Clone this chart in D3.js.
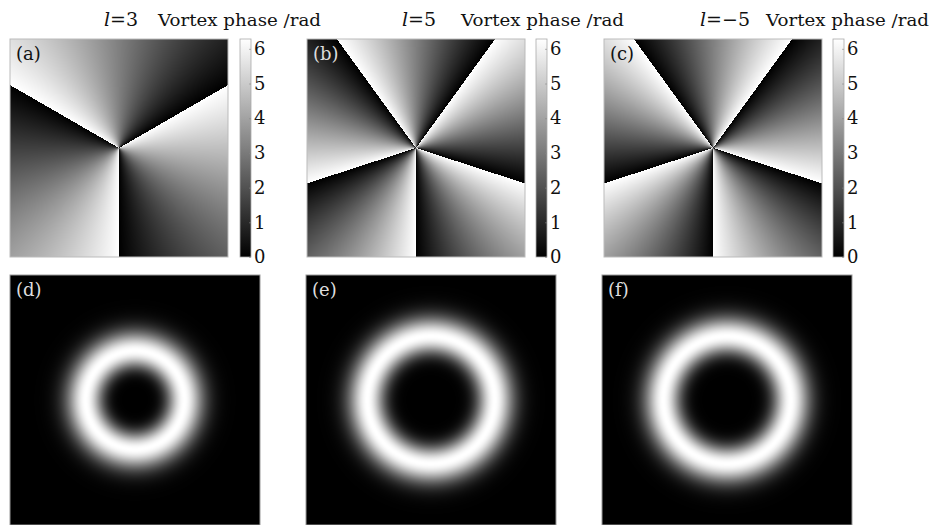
<!DOCTYPE html>
<html>
<head>
<meta charset="utf-8">
<script src="https://cdn.jsdelivr.net/npm/d3@7/dist/d3.min.js"></script>
<style>
  body { margin: 0; background: #fff; }
  svg { display: block; }
  text { font-family: "DejaVu Serif", "Liberation Serif", serif; }
</style>
</head>
<body>
<svg id="fig" width="935" height="525"></svg>
<script>
// Topological charges of the three vortex beams
const charges = [3, 5, -5];
const chargeText = ["3", "5", "\u22125"];
const phaseLabels = ["(a)", "(b)", "(c)"];
const intensityLabels = ["(d)", "(e)", "(f)"];
const phaseLabelColors = ["#111", "#ddd", "#111"];
const colorbarTicks = [0, 1, 2, 3, 4, 5, 6];
const titleText = "Vortex phase /rad";
const branchCutAngle = -Math.PI / 2;   // phase jump points straight down
const beamWaist = 1;
const intensityHalfWidth = 3.1;        // field of view, in units of the waist
const displayGamma = 1.2;              // contrast of the intensity images

// Layout
const phaseTop = 39, phaseSize = 218;
const phaseLeft = [10, 307, 604];
const barLeft = [240, 536, 833], barWidth = 11;
const intTop = 275, intSize = 250;
const intLeft = [10, 306, 602];
const titleChargeX = [104, 402, 700];
const titleTextX = [158, 461, 766];
const titleWidth = 163;
const titleBaseline = 26;

const svg = d3.select("#fig");
const TWO_PI = 2 * Math.PI;

const phaseColor = d3.scaleLinear().domain([0, TWO_PI]).range(["#000", "#fff"]);
const intensityColor = d3.scalePow().exponent(displayGamma).domain([0, 1])
  .range(["#000", "#fff"]).clamp(true);

function rasterImage(size, fn) {
  const canvas = document.createElement("canvas");
  canvas.width = size; canvas.height = size;
  const ctx = canvas.getContext("2d");
  const img = ctx.createImageData(size, size);
  for (let j = 0; j < size; j++) {
    for (let i = 0; i < size; i++) {
      const c = d3.rgb(fn(i + 0.5, j + 0.5));
      const k = 4 * (j * size + i);
      img.data[k] = c.r; img.data[k + 1] = c.g; img.data[k + 2] = c.b; img.data[k + 3] = 255;
    }
  }
  ctx.putImageData(img, 0, 0);
  return canvas.toDataURL();
}

// ---- Vortex phase maps (top row) ----
charges.forEach((l, idx) => {
  const x = d3.scaleLinear().domain([-1, 1]).range([0, phaseSize]);
  const y = d3.scaleLinear().domain([-1, 1]).range([phaseSize, 0]);
  const href = rasterImage(phaseSize, (px, py) => {
    const X = x.invert(px), Y = y.invert(py);
    const phi = Math.atan2(Y, X);
    let p = (l * (phi - branchCutAngle)) % TWO_PI;
    if (p < 0) p += TWO_PI;
    return phaseColor(p);
  });
  const g = svg.append("g").attr("transform", `translate(${phaseLeft[idx]},${phaseTop})`);
  g.append("image").attr("href", href).attr("width", phaseSize).attr("height", phaseSize);
  g.append("rect").attr("width", phaseSize).attr("height", phaseSize)
    .attr("fill", "none").attr("stroke", "#bbb").attr("stroke-width", 1);
  g.append("text").attr("x", 6).attr("y", 21).attr("font-size", 18)
    .attr("fill", phaseLabelColors[idx]).text(phaseLabels[idx]);

  // colour bar
  const cb = svg.append("g").attr("transform", `translate(${barLeft[idx]},${phaseTop})`);
  const gradId = "grad" + idx;
  const grad = svg.append("defs").append("linearGradient").attr("id", gradId)
    .attr("x1", 0).attr("y1", 1).attr("x2", 0).attr("y2", 0);
  d3.range(0, 1.0001, 0.1).forEach(t => {
    grad.append("stop").attr("offset", t).attr("stop-color", phaseColor(t * TWO_PI));
  });
  cb.append("rect").attr("width", barWidth).attr("height", phaseSize)
    .attr("fill", `url(#${gradId})`).attr("stroke", "#aaa").attr("stroke-width", 0.8);
  const cbScale = d3.scaleLinear().domain([0, TWO_PI]).range([phaseSize, 0]);
  const axis = cb.append("g").attr("transform", `translate(${barWidth},0)`)
    .call(d3.axisRight(cbScale).tickValues(colorbarTicks).tickFormat(d3.format("d"))
      .tickSizeInner(-2).tickSizeOuter(0).tickPadding(3));
  axis.select(".domain").remove();
  axis.selectAll(".tick line").attr("stroke", "#888").attr("stroke-width", 0.6);
  axis.selectAll(".tick text").attr("font-size", 18).attr("fill", "#111")
    .attr("font-family", "DejaVu Serif, serif");

  // title
  const t = svg.append("text").attr("y", titleBaseline).attr("font-size", 19).attr("fill", "#111");
  t.append("tspan").attr("x", titleChargeX[idx]).attr("font-style", "italic").text("l");
  t.append("tspan").text("=" + chargeText[idx]);
  svg.append("text").attr("x", titleTextX[idx]).attr("y", titleBaseline)
    .attr("font-size", 17.5).attr("fill", "#111")
    .attr("textLength", titleWidth).attr("lengthAdjust", "spacingAndGlyphs")
    .text(titleText);
});

// ---- Laguerre-Gaussian intensity profiles (bottom row) ----
charges.forEach((l, idx) => {
  const m = Math.abs(l);
  const x = d3.scaleLinear().domain([-intensityHalfWidth, intensityHalfWidth]).range([0, intSize]);
  const y = d3.scaleLinear().domain([-intensityHalfWidth, intensityHalfWidth]).range([intSize, 0]);
  const s2peak = m / 2;
  const peak = Math.pow(s2peak, m) * Math.exp(-2 * s2peak);
  const href = rasterImage(intSize, (px, py) => {
    const X = x.invert(px), Y = y.invert(py);
    const s2 = (X * X + Y * Y) / (beamWaist * beamWaist);
    const I = Math.pow(s2, m) * Math.exp(-2 * s2) / peak;
    return intensityColor(I);
  });
  const g = svg.append("g").attr("transform", `translate(${intLeft[idx]},${intTop})`);
  g.append("image").attr("href", href).attr("width", intSize).attr("height", intSize);
  g.append("rect").attr("width", intSize).attr("height", intSize)
    .attr("fill", "none").attr("stroke", "#999").attr("stroke-width", 1);
  g.append("text").attr("x", 6).attr("y", 21).attr("font-size", 18)
    .attr("fill", "#ddd").text(intensityLabels[idx]);
});
</script>
</body>
</html>
